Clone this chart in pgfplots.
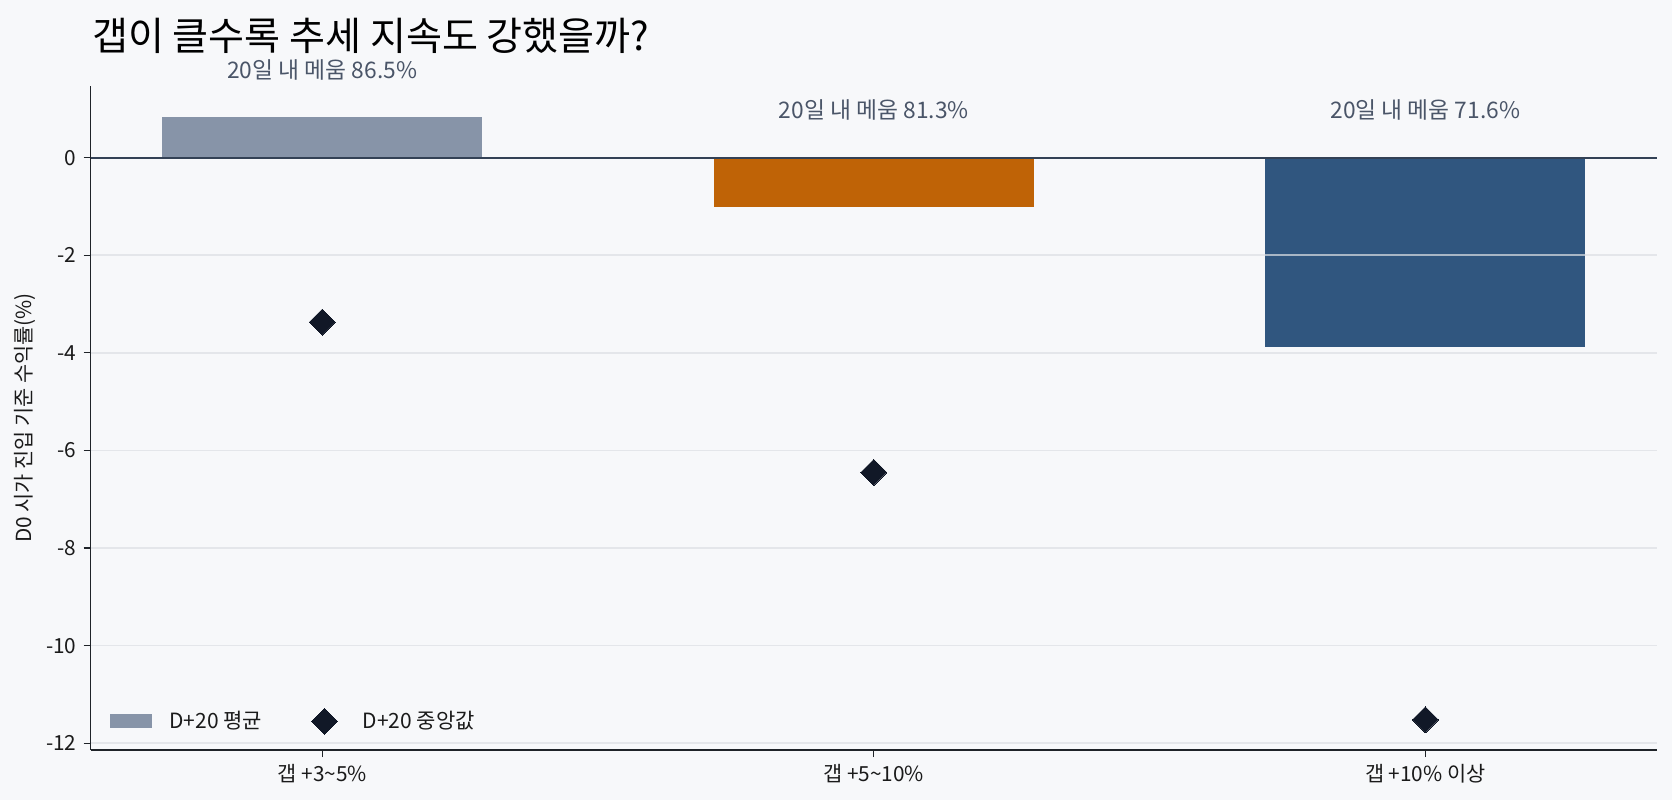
\documentclass[border=0pt]{standalone}
\usepackage{fontspec}
\setmainfont{Noto Sans CJK KR}
\usepackage{pgfplots}
\pgfplotsset{compat=1.18}

\definecolor{bg}{HTML}{F7F8FA}
\definecolor{barA}{HTML}{8794A8}
\definecolor{barB}{HTML}{BF6306}
\definecolor{barC}{HTML}{30567F}
\definecolor{medc}{HTML}{111827}
\definecolor{gridc}{HTML}{DCDFE4}
\definecolor{zeroc}{HTML}{334155}
\definecolor{axisc}{HTML}{1F2328}
\definecolor{annc}{HTML}{4A5568}
\definecolor{tickc}{HTML}{1A1A1A}

\begin{document}
\begin{tikzpicture}[x=1pt,y=1pt]
\fill[bg] (0,0) rectangle (836,400);
\useasboundingbox (0,0) rectangle (836,400);
\node[anchor=west, inner sep=0pt, font=\fontsize{19.55}{23}\selectfont, text=black] at (45.9,382.1) {갭이 클수록 추세 지속도 강했을까?};

\begin{axis}[
    at={(45.3pt,25pt)}, anchor=south west,
    scale only axis, width=783.2pt, height=332pt,
    xmin=-0.42, xmax=2.42,
    ymin=-12.14, ymax=1.47,
    axis x line*=bottom, axis y line*=left,
    axis line style={color=axisc, line width=0.75pt},
    xtick={0,1,2},
    xticklabels={갭 +3\textasciitilde 5\%, 갭 +5\textasciitilde 10\%, 갭 +10\% 이상},
    ytick={-12,-10,-8,-6,-4,-2},
    extra y ticks={0},
    extra y tick style={grid style={color=zeroc, line width=1pt, opacity=1}},
    ymajorgrids,
    grid style={color=gridc, line width=0.8pt, opacity=0.7},
    tick align=outside, major tick length=3.5pt,
    tick style={color=axisc, line width=0.6pt},
    axis on top, clip=false,
    ticklabel style={font=\fontsize{10.4}{12}\selectfont, text=tickc},
    /pgf/number format/assume math mode=true,
    bar width=0.58, bar shift=0pt,
    ylabel={D0 시가 진입 기준 수익률(\%)},
    every axis y label/.style={at={(axis description cs:-0.0419,0.5)}, rotate=90, anchor=center, font=\fontsize{10.4}{12}\selectfont, text=tickc},
    legend columns=2,
    legend style={at={(axis description cs:0.0124,0.043)}, anchor=west,
        draw=none, fill=none, inner sep=0pt, outer sep=0pt,
        font=\fontsize{10.5}{12}\selectfont, text=tickc,
        nodes={inner sep=0pt},
        column sep=8.65pt,
        /tikz/every even column/.append style={column sep=20.7pt}},
]

\addplot[ybar, fill=barA, draw=none,
    legend image code/.code={\fill[barA] (0pt,-3.5pt) rectangle (21pt,3.5pt);}]
    coordinates {(0,0.834)};
\addlegendentry{D+20 평균}
\addplot[ybar, fill=barB, draw=none, forget plot] coordinates {(1,-1.00)};
\addplot[ybar, fill=barC, draw=none, forget plot] coordinates {(2,-3.87)};

\addplot[only marks, mark=diamond*, mark size=6.5pt, color=medc,
    mark options={xscale=1.333, line width=0pt},
    legend image code/.code={\path[draw=none, fill=none] (0pt,-3.5pt) rectangle (21pt,3.5pt);
        \path[draw=none, mark=diamond*, mark size=6.5pt, color=medc, mark options={xscale=1.333, line width=0pt, fill=medc}] plot coordinates {(10.5pt,0pt)};}]
    coordinates {(0,-3.37) (1,-6.45) (2,-11.52)};
\addlegendentry{D+20 중앙값}

\node[font=\fontsize{11.4}{13}\selectfont, text=annc] at (axis cs:0,1.79) {20일 내 메움 86.5\%};
\node[font=\fontsize{11.4}{13}\selectfont, text=annc] at (axis cs:1,0.98) {20일 내 메움 81.3\%};
\node[font=\fontsize{11.4}{13}\selectfont, text=annc] at (axis cs:2,0.98) {20일 내 메움 71.6\%};
\end{axis}
\end{tikzpicture}
\end{document}
